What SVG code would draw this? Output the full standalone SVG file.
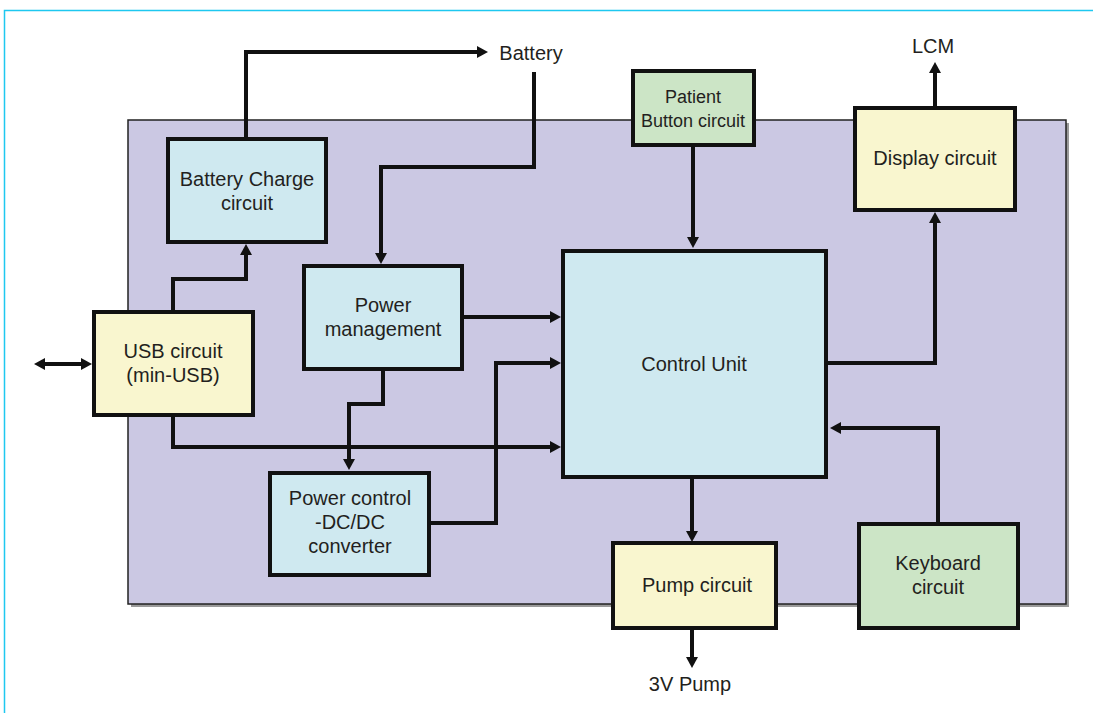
<svg xmlns="http://www.w3.org/2000/svg" width="1093" height="713" viewBox="0 0 1093 713">
<style>
.t{font-family:"Liberation Sans",Arial,sans-serif;font-size:20px;fill:#231f20;text-anchor:middle}
.s{font-size:18px}
.box{stroke:#111;stroke-width:4}
.blue{fill:#cfe9f0}
.yel{fill:#f9f6cf}
.grn{fill:#cce5c6}
.c{fill:none;stroke:#111;stroke-width:4}
</style>
<defs>
<marker id="ah" viewBox="0 0 11 12" markerUnits="userSpaceOnUse" markerWidth="11" markerHeight="12" refX="1" refY="6" orient="auto-start-reverse">
<path d="M0,0 L11,6 L0,12 z" fill="#111"/>
</marker>
</defs>
<rect width="1093" height="713" fill="#fff"/>
<path d="M4.5,713 V10.5 H1093" fill="none" stroke="#1ec8f0" stroke-width="1.5"/>
<g id="board">
<rect x="131" y="123" width="938" height="484" fill="#9a9a9a"/>
<rect x="128" y="120" width="938" height="484" fill="#cbc8e3" stroke="#222" stroke-width="1.5"/>
</g>
<g id="connectors">
<path class="c" d="M246,137 V52 H478" marker-end="url(#ah)"/>
<path class="c" d="M534,72 V167 H381 V254" marker-end="url(#ah)"/>
<path class="c" d="M173,310 V279 H246 V254" marker-end="url(#ah)"/>
<path class="c" d="M44,364 H82" marker-start="url(#ah)" marker-end="url(#ah)"/>
<path class="c" d="M173,417 V447 H551" marker-end="url(#ah)"/>
<path class="c" d="M464,317 H551" marker-end="url(#ah)"/>
<path class="c" d="M383,371 V404 H349 V460" marker-end="url(#ah)"/>
<path class="c" d="M431,523 H496 V363 H551" marker-end="url(#ah)"/>
<path class="c" d="M693,147 V238" marker-end="url(#ah)"/>
<path class="c" d="M827,363 H935 V222" marker-end="url(#ah)"/>
<path class="c" d="M935,106 V72" marker-end="url(#ah)"/>
<path class="c" d="M938,524 V428 H840" marker-end="url(#ah)"/>
<path class="c" d="M692,478 V532" marker-end="url(#ah)"/>
<path class="c" d="M692,629 V658" marker-end="url(#ah)"/>
</g>
<g id="battery-charge">
<rect class="box blue" x="168" y="139" width="158" height="103"/>
<text class="t" x="247" y="186">Battery Charge</text>
<text class="t" x="247" y="210">circuit</text>
</g>
<g id="usb">
<rect class="box yel" x="94" y="312" width="159" height="103"/>
<text class="t" x="173" y="358">USB circuit</text>
<text class="t" x="173" y="382">(min-USB)</text>
</g>
<g id="power-management">
<rect class="box blue" x="304" y="266" width="158" height="103"/>
<text class="t" x="383" y="312">Power</text>
<text class="t" x="383" y="336">management</text>
</g>
<g id="power-control">
<rect class="box blue" x="270" y="473" width="159" height="102"/>
<text class="t" x="350" y="505">Power control</text>
<text class="t" x="350" y="529">-DC/DC</text>
<text class="t" x="350" y="553">converter</text>
</g>
<g id="control-unit">
<rect class="box blue" x="563" y="251" width="263" height="226"/>
<text class="t" x="694" y="371">Control Unit</text>
</g>
<g id="patient-button">
<rect class="box grn" x="633" y="71" width="121" height="74"/>
<text class="t s" x="693" y="103">Patient</text>
<text class="t s" x="693" y="127">Button circuit</text>
</g>
<g id="display">
<rect class="box yel" x="855" y="108" width="160" height="102"/>
<text class="t" x="935" y="165">Display circuit</text>
</g>
<g id="pump">
<rect class="box yel" x="613" y="543" width="163" height="85"/>
<text class="t" x="697" y="592">Pump circuit</text>
</g>
<g id="keyboard">
<rect class="box grn" x="859" y="524" width="159" height="104"/>
<text class="t" x="938" y="570">Keyboard</text>
<text class="t" x="938" y="594">circuit</text>
</g>
<g id="labels">
<text class="t" x="531" y="60">Battery</text>
<text class="t" x="933" y="53">LCM</text>
<text class="t" x="690" y="691">3V Pump</text>
</g>
</svg>
